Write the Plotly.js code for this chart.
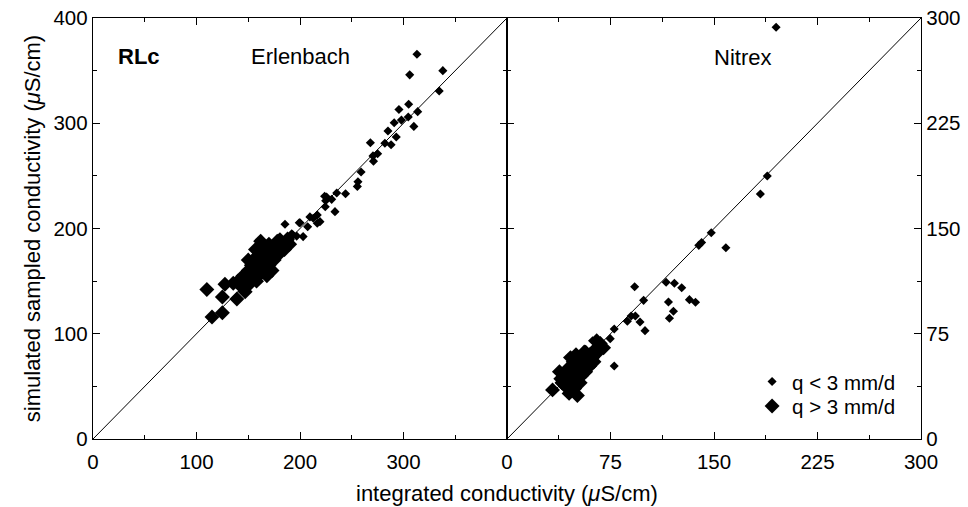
<!DOCTYPE html>
<html>
<head>
<meta charset="utf-8">
<script src="https://cdn.plot.ly/plotly-3.0.1.min.js"></script>
<style>html,body{margin:0;padding:0;background:#fff;}#chart{width:968px;height:507px;}</style>
</head>
<body>
<div id="chart"></div>
<script>
// Erlenbach (left panel)
const erlSmallX = [313,306,338,334.5,305,295.6,298,304.6,313.7,291,310,285,293,268,282,288,275,270.5,271,259,256,255.4,244,235.5,223.8,230.6,224.8,224.4,
  216.7,209.6,216.7,200,207.4,185.5,192,196.8,190.3,180.6,203,199.3,212.8,219.3,233.8,225.7,193,186,178,172,165,158];
const erlSmallY = [365.5,346,350,330.6,318,313,303,306,311,300.5,297,292.6,287,281.5,281,279.6,271,269,264,253.7,244.4,240,233,233.7,230.6,227.7,226.4,220.7,
  212.8,211,205,205.5,201.7,204,195,192.8,189,192.2,192.3,205.5,209.7,206.5,216,230,194,183,180,176,170,162];
const erlLargeX = [110,115,125,125,127.5,135.5,139,140,143,145,148,150,152,153,155,155,158,160,160,162,163,165,165,168,170,170,172,175,176,178,180,183,185,188,190,168,158,147,173,162,157,150,166,179];
const erlLargeY = [142,116,120,135,147,148,133,150,145,155,152,160,148,165,170,158,162,175,155,168,182,172,160,178,165,185,175,170,182,188,176,185,180,190,185,155,150,140,160,188,180,170,167,177];
// Nitrex (right panel)
const nitSmallX = [195,188.6,183.6,148,141,139,158.6,92.5,115.3,121.3,126.6,99,117,132.2,136.6,120.6,117.7,90,93,87.2,96.4,100,77.7,74.8,77.7,62,57];
const nitSmallY = [293.4,187.4,174.6,147,140,138,136.3,108.5,111.7,111,107.8,98.8,97.6,99.3,97.4,91,86,87.6,87.6,83.9,83.4,77.2,78.4,71.5,52,70,64];
const nitLargeX = [33,45,51,40,42,38,44,47,50,52,48,55,55,58,60,62,64,66,67.6,70,46,50,54,57,60,63,42,39,56,65,49,53,40];
const nitLargeY = [35,32.5,31,40,45,48,50,42,47,52,55,50,57,55,60,58,64,62,68,65,58,60,45,48,52,55,38,43,62,70,36,40,40];
const oneToOneL = [0,400];
const oneToOneR = [0,300];
const xTicksL = [0,100,200,300];
const xTicksR = [0,75,150,225,300];
const yTicksL = [0,100,200,300,400];
const yTicksR = [0,75,150,225,300];

const F = 'Liberation Sans, Arial, sans-serif';
const smallM = {symbol:'diamond', size:7, color:'#000'};
const largeM = {symbol:'diamond', size:11.5, color:'#000'};

const traces = [
  {x:oneToOneL, y:oneToOneL, mode:'lines', line:{color:'#000',width:1}, xaxis:'x', yaxis:'y', showlegend:false, hoverinfo:'skip'},
  {x:oneToOneR, y:oneToOneR, mode:'lines', line:{color:'#000',width:1}, xaxis:'x2', yaxis:'y2', showlegend:false, hoverinfo:'skip'},
  {x:erlLargeX, y:erlLargeY, mode:'markers', marker:largeM, xaxis:'x', yaxis:'y', showlegend:false},
  {x:erlSmallX, y:erlSmallY, mode:'markers', marker:smallM, xaxis:'x', yaxis:'y', showlegend:false},
  {x:nitLargeX, y:nitLargeY, mode:'markers', marker:largeM, xaxis:'x2', yaxis:'y2', showlegend:false},
  {x:nitSmallX, y:nitSmallY, mode:'markers', marker:smallM, xaxis:'x2', yaxis:'y2', name:'q < 3 mm/d', legend:'legend'},
  {x:[null], y:[null], mode:'markers', marker:largeM, xaxis:'x2', yaxis:'y2', name:'q > 3 mm/d', legend:'legend2'}
];

const axBase = {showgrid:false, zeroline:false, showline:true, linecolor:'#000', linewidth:1.2,
  ticks:'inside', ticklen:7, tickcolor:'#000', tickwidth:1, mirror:'ticks',
  tickfont:{family:F, size:20.5, color:'#000'}, fixedrange:true};

const legBase = {xanchor:'left', yanchor:'middle', bgcolor:'rgba(0,0,0,0)',
  font:{family:F, size:20.5, color:'#000'}, itemwidth:30, tracegroupgap:0};

const layout = {
  width:968, height:507,
  margin:{l:93, r:47, t:18, b:68},
  paper_bgcolor:'#fff', plot_bgcolor:'#fff',
  font:{family:F, size:22, color:'#000'},
  xaxis: Object.assign({}, axBase, {domain:[0,0.5], range:[0,400], tickvals:xTicksL, anchor:'y', ticklabelstandoff:4,
    minor:{ticks:'inside', ticklen:4, dtick:50, tick0:0, tickcolor:'#000'}}),
  yaxis: Object.assign({}, axBase, {domain:[0,1], range:[0,400], tickvals:yTicksL, anchor:'x',
    minor:{ticks:'inside', ticklen:4, dtick:50, tick0:0, tickcolor:'#000'},
    title:{text:'simulated sampled conductivity (<i>μ</i>S/cm)', font:{family:F, size:22}, standoff:6}}),
  xaxis2: Object.assign({}, axBase, {domain:[0.5,1], range:[0,300], tickvals:xTicksR, anchor:'y2', ticklabelstandoff:4,
    minor:{ticks:'inside', ticklen:4, dtick:37.5, tick0:0, tickcolor:'#000'}}),
  yaxis2: Object.assign({}, axBase, {domain:[0,1], range:[0,300], tickvals:yTicksR, anchor:'x2', side:'right',
    minor:{ticks:'inside', ticklen:4, dtick:37.5, tick0:0, tickcolor:'#000'}}),
  showlegend:true,
  legend: Object.assign({}, legBase, {x:0.796, y:0.136}),
  legend2: Object.assign({}, legBase, {x:0.796, y:0.078}),
  annotations:[
    {text:'<b>RLc</b>', x:44, y:363, xref:'x', yref:'y', showarrow:false, font:{family:F, size:22}},
    {text:'Erlenbach', x:200, y:363, xref:'x', yref:'y', showarrow:false, font:{family:F, size:22}},
    {text:'Nitrex', x:171, y:272, xref:'x2', yref:'y2', showarrow:false, font:{family:F, size:22}},
    {text:'integrated conductivity (<i>μ</i>S/cm)', x:0.5, y:-0.13, xref:'paper', yref:'paper', yanchor:'middle',
      showarrow:false, font:{family:F, size:22}}
  ]
};

Plotly.newPlot('chart', traces, layout, {displayModeBar:false, staticPlot:true});
</script>
</body>
</html>
